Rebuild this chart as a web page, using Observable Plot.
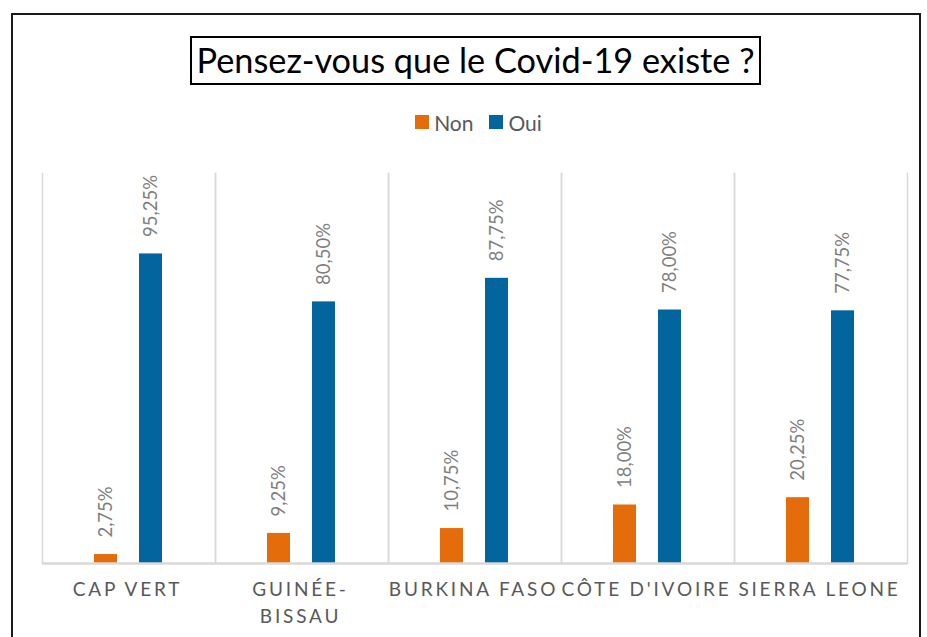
<!DOCTYPE html>
<html>
<head>
<meta charset="utf-8">
<script src="https://cdn.jsdelivr.net/npm/d3@7"></script>
<script src="https://cdn.jsdelivr.net/npm/@observablehq/plot@0.6"></script>
<style>
  html, body { margin: 0; padding: 0; background: #fff; }
  #wrap { position: relative; width: 927px; height: 637px; overflow: hidden; background: #fff; font-family: Lato, "Open Sans", sans-serif; }
  #border { position: absolute; left: 11px; top: 13px; width: 910px; height: 700px; border: 2px solid #1a1a1a; box-sizing: border-box; }
  #title { position: absolute; left: 190px; top: 36px; width: 571px; height: 49px; border: 2px solid #000; box-sizing: border-box;
           font-size: 34.3px; color: #000; text-align: center; line-height: 43px; white-space: nowrap; }
  #legend { position: absolute; left: 15px; width: 927px; top: 108px; text-align: center; font-size: 21px; color: #595959; }
  #legend .item { display: inline-flex; align-items: center; margin: 0 8px; }
  #legend .sw { width: 14px; height: 14px; display: inline-block; margin-right: 5px; }
  #chart { position: absolute; left: 0; top: 150px; }
</style>
</head>
<body>
<div id="wrap">
  <div id="border"></div>
  <div id="title">Pensez-vous que le Covid-19 existe ?</div>
  <div id="legend"></div>
  <div id="chart"></div>
</div>
<script>
const countries = ["CAP VERT", "GUINÉE-BISSAU", "BURKINA FASO", "CÔTE D'IVOIRE", "SIERRA LEONE"];
const countryLabels = ["CAP VERT", "GUINÉE-\nBISSAU", "BURKINA FASO", "CÔTE D'IVOIRE", "SIERRA LEONE"];
const series = ["Non", "Oui"];
const nonValues = [2.75, 9.25, 10.75, 18.00, 20.25];
const ouiValues = [95.25, 80.50, 87.75, 78.00, 77.75];
const colors = ["#e46c0a", "#02659e"];

const data = [];
countries.forEach((c, i) => {
  data.push({country: c, serie: "Non", value: nonValues[i]});
  data.push({country: c, serie: "Oui", value: ouiValues[i]});
});
const cats = countries.map((c, i) => ({country: c, label: countryLabels[i]}));
const fmt = v => v.toFixed(2).replace(".", ",") + "%";

// legend
const legend = document.getElementById("legend");
series.forEach((s, i) => {
  const it = document.createElement("span");
  it.className = "item";
  it.innerHTML = `<span class="sw" style="background:${colors[i]}"></span>${s}`;
  legend.appendChild(it);
});

const chart = Plot.plot({
  width: 927,
  height: 487,
  marginLeft: 40,
  marginRight: 19,
  marginTop: 23,
  marginBottom: 74,
  style: {fontFamily: "Lato, 'Open Sans', sans-serif", background: "transparent"},
  fx: {domain: countries, padding: 0, axis: null},
  x: {domain: series, paddingInner: 0.479, paddingOuter: 1.147, axis: null},
  y: {domain: [0, 120], axis: null},
  color: {domain: series, range: colors},
  marks: [
    Plot.frame({anchor: "left", stroke: "#d9d9d9", strokeWidth: 1.5}),
    Plot.frame({anchor: "right", stroke: "#d9d9d9", strokeWidth: 1.5}),
    Plot.barY(data, {fx: "country", x: "serie", y: "value", fill: "serie"}),
    Plot.ruleY([0], {stroke: "#d9d9d9", strokeWidth: 2.5}),
    Plot.text(data, {fx: "country", x: "serie", y: "value", text: d => fmt(d.value),
      rotate: -90, textAnchor: "start", lineAnchor: "middle", dy: -17, fontSize: 18.5, fill: "#7f7f7f"}),
    Plot.text(cats, {fx: "country", text: "label", frameAnchor: "bottom", lineAnchor: "top",
      dx: -1.5, dy: 13, fontSize: 19, lineHeight: 1.42, fill: "#595959"})
  ]
});
const texts = chart.querySelectorAll('g[aria-label="text"]');
if (texts.length) {
  const g = texts[texts.length - 1];
  g.style.letterSpacing = "2.8px";
}
document.getElementById("chart").appendChild(chart);
</script>
</body>
</html>
